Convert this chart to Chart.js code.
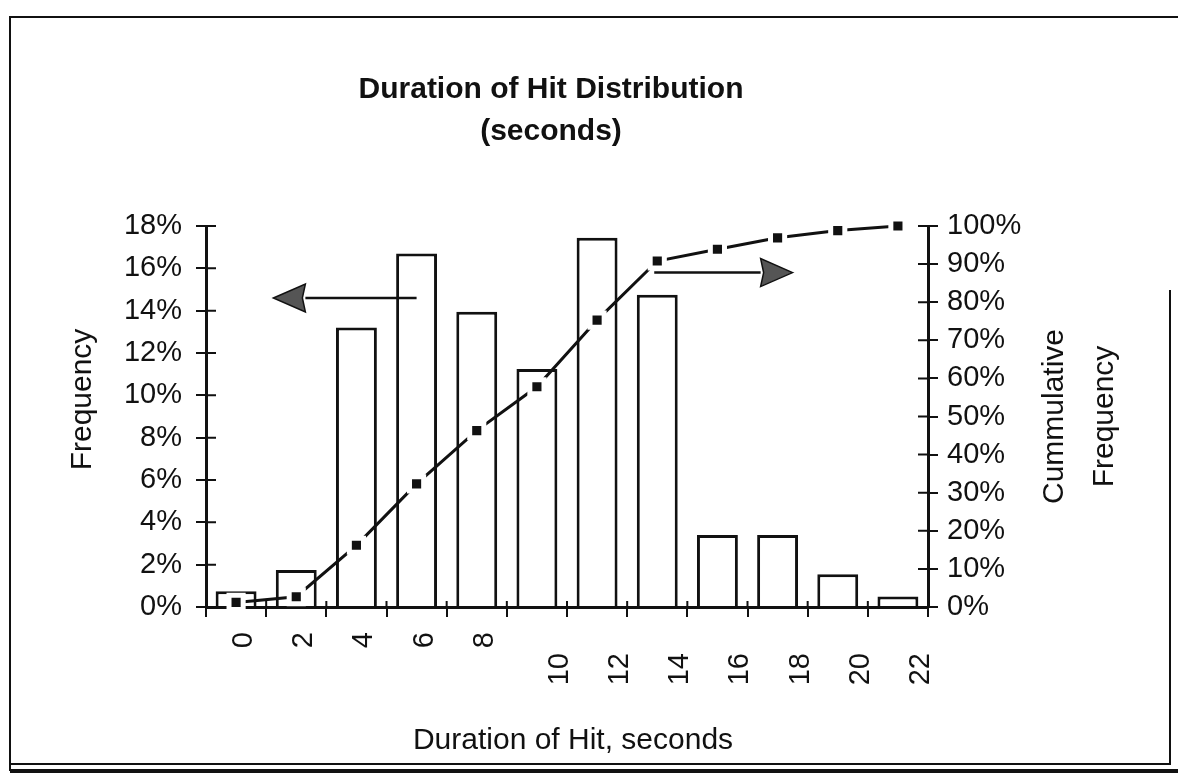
<!DOCTYPE html>
<html>
<head>
<meta charset="utf-8">
<title>Duration of Hit Distribution</title>
<script src="https://cdn.jsdelivr.net/npm/chart.js@4/dist/chart.umd.min.js"></script>
<style>
  html, body { margin: 0; padding: 0; background: #fff; }
  #wrap { position: relative; width: 1178px; height: 777px; }
</style>
</head>
<body>
<div id="wrap"><canvas id="hitChart"></canvas></div>
<script>
// 2-second bins
const binLabels = ['0', '2', '4', '6', '8', '10', '12', '14', '16', '18', '20', '22'];
// share of hits per bin, %
const frequency = [0.75, 1.75, 13.2, 16.7, 13.95, 11.25, 17.45, 14.75, 3.4, 3.4, 1.55, 0.5];
// running total, %
const cumulative = [1.2, 2.7, 16.2, 32.3, 46.3, 57.8, 75.3, 90.8, 93.9, 96.9, 98.8, 100];
// axis ticks
const freqTicks = [0, 2, 4, 6, 8, 10, 12, 14, 16, 18];
const cumTicks = [0, 10, 20, 30, 40, 50, 60, 70, 80, 90, 100];

// pointer arrows, in bin index / frequency % units
const arrows = [
    { from: 3.0, to: 0.62, level: 14.6 },
    { from: 6.95, to: 9.25, level: 15.8 }
];

const INK = '#111';
Chart.defaults.font.family = '"Liberation Sans", Arial, Helvetica, sans-serif';
Chart.defaults.color = INK;

// ===== PLUGINS =====
const pageFrame = {
    id: 'pageFrame',
    beforeDraw(chart) {
        const { ctx, width, height } = chart;
        ctx.save();
        ctx.fillStyle = '#fff';
        ctx.fillRect(0, 0, width, height);
        ctx.strokeStyle = INK;
        ctx.lineWidth = 2;
        ctx.beginPath();
        ctx.moveTo(10, 771);
        ctx.lineTo(10, 17);
        ctx.lineTo(width, 17);
        ctx.moveTo(1170, 290);
        ctx.lineTo(1170, 765);
        ctx.moveTo(10, 764);
        ctx.lineTo(1170, 764);
        ctx.stroke();
        ctx.lineWidth = 4;
        ctx.beginPath();
        ctx.moveTo(10, 771);
        ctx.lineTo(width, 771);
        ctx.stroke();
        ctx.restore();
    }
};

const innerTicks = {
    id: 'innerTicks',
    afterDraw(chart) {
        const { ctx, chartArea: a, scales } = chart;
        ctx.save();
        ctx.strokeStyle = INK;
        ctx.lineWidth = 2;
        ctx.beginPath();
        scales.y.ticks.forEach(t => {
            const py = scales.y.getPixelForValue(t.value);
            ctx.moveTo(a.left, py);
            ctx.lineTo(a.left + 10, py);
        });
        scales.y1.ticks.forEach(t => {
            const py = scales.y1.getPixelForValue(t.value);
            ctx.moveTo(a.right, py);
            ctx.lineTo(a.right - 10, py);
        });
        for (let i = 0; i <= binLabels.length; i++) {
            const px = scales.x.getPixelForValue(i - 0.5);
            ctx.moveTo(px, a.bottom);
            ctx.lineTo(px, a.bottom - 6);
        }
        ctx.stroke();
        ctx.restore();
    }
};

const arrowNotes = {
    id: 'arrowNotes',
    afterDatasetsDraw(chart) {
        const { ctx, scales: { x, y } } = chart;
        ctx.save();
        arrows.forEach(a => {
            const x0 = x.getPixelForValue(a.from);
            const x1 = x.getPixelForValue(a.to);
            const py = y.getPixelForValue(a.level);
            const dir = Math.sign(x1 - x0);
            const baseX = x1 - dir * 32;
            ctx.strokeStyle = INK;
            ctx.lineWidth = 2.5;
            ctx.beginPath();
            ctx.moveTo(x0, py);
            ctx.lineTo(baseX, py);
            ctx.stroke();
            ctx.beginPath();
            ctx.moveTo(x1, py);
            ctx.lineTo(baseX, py - 14);
            ctx.lineTo(baseX + dir * 3, py);
            ctx.lineTo(baseX, py + 14);
            ctx.closePath();
            ctx.fillStyle = '#555';
            ctx.fill();
            ctx.lineWidth = 1.5;
            ctx.stroke();
        });
        ctx.restore();
    }
};

const axisTitles = {
    id: 'axisTitles',
    afterDraw(chart) {
        const { ctx, chartArea: a } = chart;
        const midY = (a.top + a.bottom) / 2;
        ctx.save();
        ctx.fillStyle = INK;
        ctx.font = '30px "Liberation Sans", Arial, Helvetica, sans-serif';
        ctx.textAlign = 'center';
        ctx.textBaseline = 'middle';
        ctx.fillText('Duration of Hit, seconds', (a.left + a.right) / 2 + 6, a.bottom + 134);
        const vertical = (text, px, py) => {
            ctx.save();
            ctx.translate(px, py);
            ctx.rotate(-Math.PI / 2);
            ctx.fillText(text, 0, 0);
            ctx.restore();
        };
        vertical('Frequency', a.left - 123, midY - 17);
        vertical('Cummulative', a.right + 127, midY);
        vertical('Frequency', a.right + 177, midY);
        ctx.restore();
    }
};

// ===== CHART =====
const tickFont = { size: 29 };

new Chart(document.getElementById('hitChart'), {
    type: 'bar',
    data: {
        labels: binLabels,
        datasets: [
            {
                type: 'line',
                label: 'Cumulative Frequency',
                data: cumulative,
                xAxisID: 'x',
                yAxisID: 'y1',
                order: 0,
                clip: false,
                borderColor: INK,
                borderWidth: 3,
                tension: 0,
                pointStyle: 'rect',
                pointRadius: 10,
                pointHoverRadius: 10,
                pointBackgroundColor: INK,
                pointBorderColor: '#fff',
                pointBorderWidth: 5
            },
            {
                label: 'Frequency',
                data: frequency,
                xAxisID: 'x',
                yAxisID: 'y',
                order: 1,
                backgroundColor: '#fff',
                borderColor: INK,
                borderWidth: 3,
                barPercentage: 0.68,
                categoryPercentage: 1.0
            }
        ]
    },
    options: {
        responsive: true,
        maintainAspectRatio: false,
        animation: false,
        layout: { padding: { left: 4, right: 80, top: 10, bottom: 20 } },
        plugins: {
            legend: { display: false },
            tooltip: { enabled: false },
            title: {
                display: true,
                text: ['Duration of Hit Distribution', '(seconds)'],
                color: INK,
                font: { size: 30, weight: 'bold', lineHeight: 1.4 },
                padding: { top: 59, bottom: 73 }
            }
        },
        scales: {
            x: {
                type: 'category',
                position: 'bottom',
                weight: 1,
                z: 1,
                offset: true,
                afterFit: s => { s.height = 10; },
                grid: { offset: true, drawOnChartArea: false, tickLength: 10, color: INK, lineWidth: 2 },
                border: { color: INK, width: 3 },
                ticks: { display: false }
            },
            xa: {
                type: 'category',
                position: 'bottom',
                weight: 2,
                offset: true,
                afterFit: s => { s.height = 31; },
                grid: { display: false, drawTicks: false, tickLength: 0 },
                border: { display: false },
                ticks: {
                    autoSkip: false,
                    minRotation: 90,
                    maxRotation: 90,
                    padding: 15,
                    labelOffset: 8,
                    font: tickFont,
                    callback: (v, i) => binLabels[i].length === 1 ? binLabels[i] : ''
                }
            },
            xb: {
                type: 'category',
                position: 'bottom',
                weight: 3,
                offset: true,
                afterFit: s => { s.height = 109; },
                grid: { display: false, drawTicks: false, tickLength: 0 },
                border: { display: false },
                ticks: {
                    autoSkip: false,
                    minRotation: 90,
                    maxRotation: 90,
                    padding: 5,
                    labelOffset: 23,
                    font: tickFont,
                    callback: (v, i) => binLabels[i].length > 1 ? binLabels[i] : ''
                }
            },
            y: {
                position: 'left',
                min: 0,
                max: 18,
                afterBuildTicks: s => { s.ticks = freqTicks.map(v => ({ value: v })); },
                afterFit: s => { s.width = 202; },
                grid: { drawOnChartArea: false, tickLength: 10, color: INK, lineWidth: 2 },
                border: { color: INK, width: 3 },
                ticks: { padding: 14, font: tickFont, callback: v => v + '%' }
            },
            y1: {
                position: 'right',
                min: 0,
                max: 100,
                afterBuildTicks: s => { s.ticks = cumTicks.map(v => ({ value: v })); },
                afterFit: s => { s.width = 170; },
                grid: { drawOnChartArea: false, tickLength: 10, color: INK, lineWidth: 2 },
                border: { color: INK, width: 3 },
                ticks: { padding: 9, font: tickFont, callback: v => v + '%' }
            }
        }
    },
    plugins: [pageFrame, arrowNotes, innerTicks, axisTitles]
});
</script>
</body>
</html>
